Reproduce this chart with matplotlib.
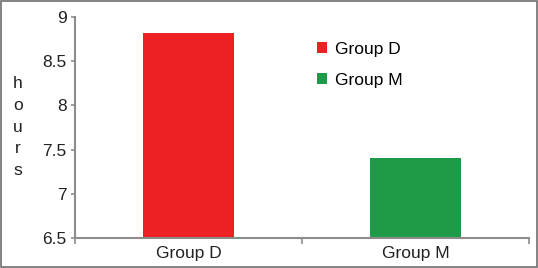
import numpy as np
import matplotlib.pyplot as plt
from matplotlib.patches import Patch, Rectangle

# data
groups = ['Group D', 'Group M']
hours = [8.82, 7.40]
colors = ['#ED2024', '#1F9A48']
yticks = [6.5, 7, 7.5, 8, 8.5, 9]

plt.rcParams['font.family'] = ['Liberation Sans', 'DejaVu Sans']
axis_col = '#8C8C8C'
fs = 12.5

fig = plt.figure(figsize=(5.38, 2.68), dpi=100)
ax = fig.add_axes([75/538, 30/268, 454/538, 221/268])

x = np.arange(len(groups))
ax.bar(x, hours, width=0.405, color=colors, bottom=0)

ax.set_xlim(-0.5, 1.5)
ax.set_ylim(6.5, 9)
ax.set_yticks(yticks)
ax.set_yticklabels(['6.5', '7', '7.5', '8', '8.5', '9'])
ax.set_xticks(x)
ax.set_xticklabels(groups)
ax.set_xticks([-0.5, 0.5, 1.5], minor=True)

for s in ['top', 'right']:
    ax.spines[s].set_visible(False)
for s in ['left', 'bottom']:
    ax.spines[s].set_color(axis_col)
    ax.spines[s].set_linewidth(1.5)

ax.tick_params(axis='y', length=3, width=1.2, color=axis_col, labelsize=fs, pad=3, labelcolor='#222222')
ax.tick_params(axis='x', which='major', length=0, labelsize=fs, pad=6, labelcolor='#222222')
ax.tick_params(axis='x', which='minor', length=4, width=1.2, color=axis_col)

# stacked y label
fig.text(18/538, 1 - 127/268, 'h\no\nu\nr\ns', ha='center', va='center',
         fontsize=fs, linespacing=1.55, color='#222222')

handles = [Patch(facecolor=c, edgecolor='none') for c in colors]
fig.legend(handles, groups, loc='upper left', bbox_to_anchor=(317/538, 1 - 42/268),
           frameon=False, fontsize=fs, handlelength=0.58, handleheight=0.58,
           handletextpad=0.45, labelspacing=0.92, borderpad=0, borderaxespad=0)

# figure border
fig.patches.append(Rectangle((0.001, 0.002), 0.997, 0.995, transform=fig.transFigure,
                             fill=False, edgecolor='#6E6E6E', linewidth=1.2))

fig.savefig('out.png', dpi=100)
